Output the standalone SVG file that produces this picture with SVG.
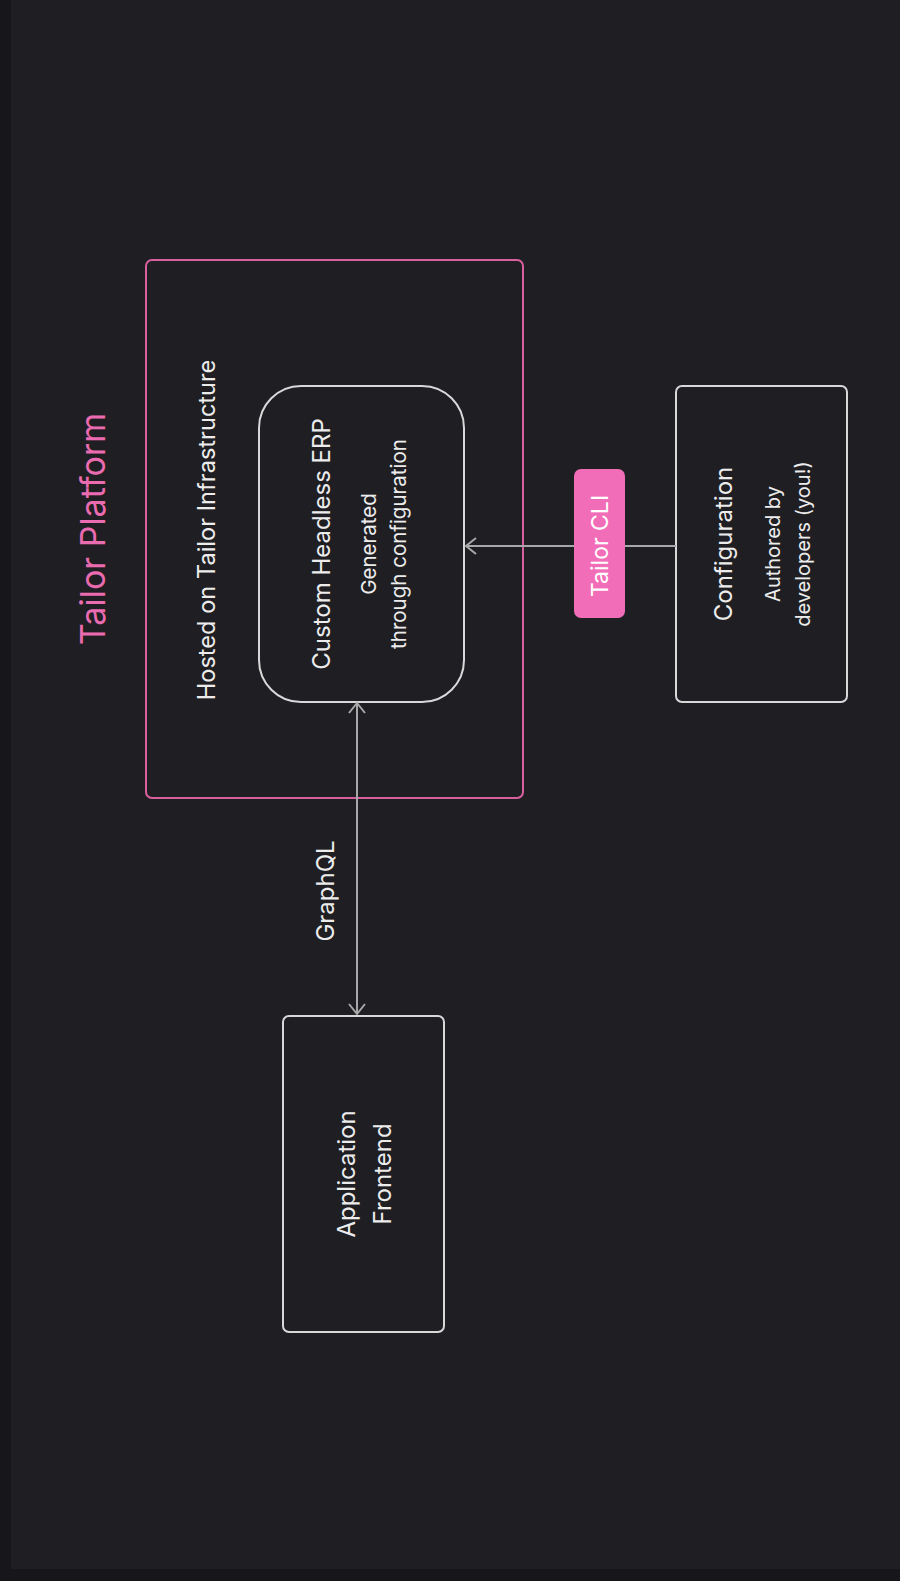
<svg xmlns="http://www.w3.org/2000/svg" width="900" height="1581" viewBox="0 0 900 1581">
  <defs>
    <style>
      .t { font-family: Inter, "Liberation Sans", sans-serif; fill: #ececec; text-anchor: middle; }
      .box { fill: none; stroke: #d8d8d8; stroke-width: 2; }
      .conn { fill: none; stroke: #a8a8a8; stroke-width: 2; }
    </style>
    <marker id="chev" viewBox="-12 -10 14 20" refX="0" refY="0" markerWidth="14" markerHeight="20" markerUnits="userSpaceOnUse" orient="auto-start-reverse">
      <path d="M-10,-8 L0,0 L-10,8" fill="none" stroke="#a8a8a8" stroke-width="2"/>
    </marker>
  </defs>

  <rect x="0" y="0" width="900" height="1581" fill="#17161b"/>
  <rect x="11" y="0" width="889" height="1569" fill="#1f1e23"/>

  <g id="platform">
    <rect x="146" y="260" width="377" height="538" rx="6" fill="none" stroke="#d9609e" stroke-width="2"/>
    <text class="t" transform="translate(105,529) rotate(-90)" style="fill:#ea6bb0;font-size:34px">Tailor Platform</text>
    <text class="t" transform="translate(215,530) rotate(-90)" style="font-size:23.6px">Hosted on Tailor Infrastructure</text>
  </g>

  <g id="erp">
    <rect class="box" x="259" y="386" width="205" height="316" rx="42"/>
    <text class="t" transform="translate(330,544) rotate(-90)" style="font-size:24px">Custom Headless ERP</text>
    <text class="t" transform="translate(376,544) rotate(-90)" style="font-size:20.5px">Generated</text>
    <text class="t" transform="translate(406,544) rotate(-90)" style="font-size:20.5px">through configuration</text>
  </g>

  <g id="configuration">
    <rect class="box" x="676" y="386" width="171" height="316" rx="6"/>
    <text class="t" transform="translate(732,544) rotate(-90)" style="font-size:24px">Configuration</text>
    <text class="t" transform="translate(780,544) rotate(-90)" style="font-size:20px">Authored by</text>
    <text class="t" transform="translate(810,544) rotate(-90)" style="font-size:20px">developers (you!)</text>
  </g>

  <g id="frontend">
    <rect class="box" x="283" y="1016" width="161" height="316" rx="6"/>
    <text class="t" transform="translate(355,1174) rotate(-90)" style="font-size:24px">Application</text>
    <text class="t" transform="translate(391,1174) rotate(-90)" style="font-size:24px">Frontend</text>
  </g>

  <g id="connectors">
    <path class="conn" d="M676,546 L466,546" marker-end="url(#chev)"/>
    <path class="conn" d="M357,703 L357,1014" marker-start="url(#chev)" marker-end="url(#chev)"/>
    <text class="t" transform="translate(334,891) rotate(-90)" style="font-size:24px">GraphQL</text>
  </g>

  <g id="tailor-cli">
    <rect x="574" y="469" width="51" height="149" rx="7" fill="#f26db8"/>
    <text class="t" transform="translate(608,546) rotate(-90)" style="fill:#ffffff;font-size:23px">Tailor CLI</text>
  </g>
</svg>
